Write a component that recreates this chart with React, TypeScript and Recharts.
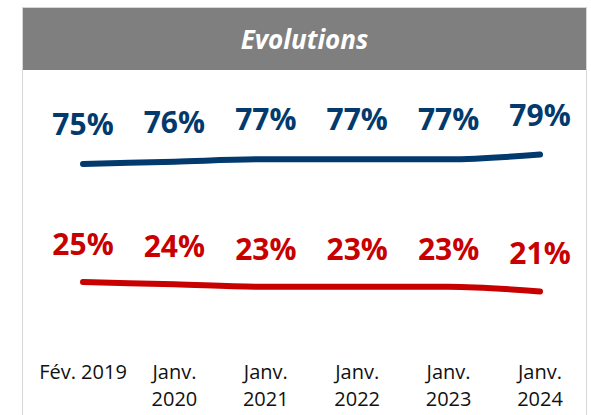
import { LineChart, Line, XAxis, YAxis, LabelList } from 'recharts';

const periods = ['Fév. 2019', 'Janv. 2020', 'Janv. 2021', 'Janv. 2022', 'Janv. 2023', 'Janv. 2024'];
const tickLines = [['Fév. 2019'], ['Janv.', '2020'], ['Janv.', '2021'], ['Janv.', '2022'], ['Janv.', '2023'], ['Janv.', '2024']];
const blueValues = [75, 76, 77, 77, 77, 79];
const redValues = [25, 24, 23, 23, 23, 21];

const BLUE = '#023a6d';
const RED = '#c80000';
const FONT = '"Open Sans", sans-serif';

const data = periods.map((p, i) => ({ period: p, blue: blueValues[i], red: redValues[i] }));

function PeriodTick(props: any) {
  const { x, y, index } = props;
  const lines = tickLines[index] || [];
  return (
    <text x={x} y={y} textAnchor="middle" fontFamily={FONT} fontSize={20} fill="#111">
      {lines.map((l, i) => (
        <tspan key={i} x={x} dy={i === 0 ? 30 : 27}>{l}</tspan>
      ))}
    </text>
  );
}

export default function App() {
  return (
    <div style={{ position: 'absolute', left: 0, top: 0, width: 591, height: 415, overflow: 'hidden', background: '#fff' }}>
      <div
        style={{
          position: 'absolute', left: 22, top: 7, width: 563, height: 430,
          borderLeft: '1px solid #d6d6d6', borderRight: '1px solid #d6d6d6', borderTop: '1px solid #d6d6d6',
        }}
      >
        <div
          style={{
            height: 62, background: '#7f7f7f', color: '#fff', fontFamily: FONT, fontWeight: 700,
            fontStyle: 'italic', fontSize: 26, textAlign: 'center', lineHeight: '62px',
          }}
        >
          Evolutions
        </div>
      </div>
      <div style={{ position: 'absolute', left: 0, top: 0 }}>
        <LineChart width={591} height={415} data={data} margin={{ top: 105, right: 51, bottom: 0, left: 83 }}>
          <YAxis hide domain={[0, 100]} />
          <XAxis dataKey="period" axisLine={false} tickLine={false} height={74} interval={0} tick={<PeriodTick />} />
          <Line dataKey="blue" stroke={BLUE} strokeWidth={6} strokeLinecap="round" type="monotone" dot={false} isAnimationActive={false}>
            <LabelList dataKey="blue" position="top" offset={29} formatter={(v: any) => `${v}%`} fill={BLUE} fontFamily={FONT} fontSize={30} fontWeight={700} />
          </Line>
          <Line dataKey="red" stroke={RED} strokeWidth={6} strokeLinecap="round" type="monotone" dot={false} isAnimationActive={false}>
            <LabelList dataKey="red" position="top" offset={27} formatter={(v: any) => `${v}%`} fill={RED} fontFamily={FONT} fontSize={30} fontWeight={700} />
          </Line>
        </LineChart>
      </div>
    </div>
  );
}
